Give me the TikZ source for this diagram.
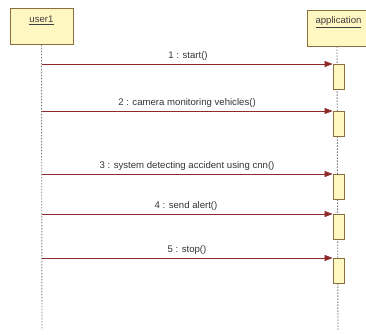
\documentclass[tikz,border=0pt]{standalone}
\usepackage{fontspec}
\setmainfont{Liberation Sans}
\usetikzlibrary{arrows.meta}
\definecolor{boxfill}{HTML}{FFF7C2}
\definecolor{boxline}{HTML}{8A6E3E}
\definecolor{msgline}{HTML}{8E2A2A}
\definecolor{lifeline}{HTML}{7A7A7A}
\begin{document}
\begin{tikzpicture}[x=1pt,y=-1pt,
  objbox/.style={draw=boxline,fill=boxfill,line width=0.8pt,minimum height=36pt,inner sep=0pt},
  actbox/.style={draw=boxline,fill=boxfill,line width=0.8pt,minimum width=11pt,inner sep=0pt},
  life/.style={lifeline,line width=0.9pt,dash pattern=on 1.5pt off 1.5pt},
  msg/.style={msgline,line width=0.7pt,-{Triangle[length=8pt,width=6pt]}},
  lbl/.style={font=\fontsize{9.6}{11}\selectfont,text=black!80,inner sep=1pt},
  objlbl/.style={font=\fontsize{9.6}{11}\selectfont,text=black!75,inner sep=1pt}]
\useasboundingbox (0,0) rectangle (366,334);
% objects
\node[objbox,minimum width=63pt] (user) at (41.5,26.5) {};
\node[objlbl] (userlbl) at (41.5,20.5) {\underline{user1}};
\node[objbox,minimum width=60pt] (app) at (337,28) {};
\node[objlbl] (applbl) at (338.5,22.5) {\underline{application}};
% lifeline ends
\coordinate (uend) at (42,330);
\coordinate (aend) at (338,330);
\draw[life] (user.south) -- (uend);
\draw[life] (app.south) -- (aend);
% activations
\node[actbox,minimum height=25pt,anchor=north] (a1) at (338.5,64) {};
\node[actbox,minimum height=25pt,anchor=north] (a2) at (338.5,111) {};
\node[actbox,minimum height=25pt,anchor=north] (a3) at (338.5,174) {};
\node[actbox,minimum height=25pt,anchor=north] (a4) at (338.5,214) {};
\node[actbox,minimum height=25pt,anchor=north] (a5) at (338.5,258) {};
% user-side message origins
\coordinate (u1) at (42,64);
\coordinate (u2) at (42,111);
\coordinate (u3) at (42,174);
\coordinate (u4) at (42,214);
\coordinate (u5) at (42,258);
% messages
\draw[msg] (u1) -- (a1.north west);
\draw[msg] (u2) -- (a2.north west);
\draw[msg] (u3) -- (a3.north west);
\draw[msg] (u4) -- (a4.north west);
\draw[msg] (u5) -- (a5.north west);
\node[lbl] (l1) at (188,56) {1 : start()};
\node[lbl] (l2) at (187,103) {2 : camera monitoring vehicles()};
\node[lbl] (l3) at (187,166) {3 : system detecting accident using cnn()};
\node[lbl] (l4) at (186,206) {4 : send alert()};
\node[lbl] (l5) at (187,250) {5 : stop()};
\end{tikzpicture}
\end{document}
